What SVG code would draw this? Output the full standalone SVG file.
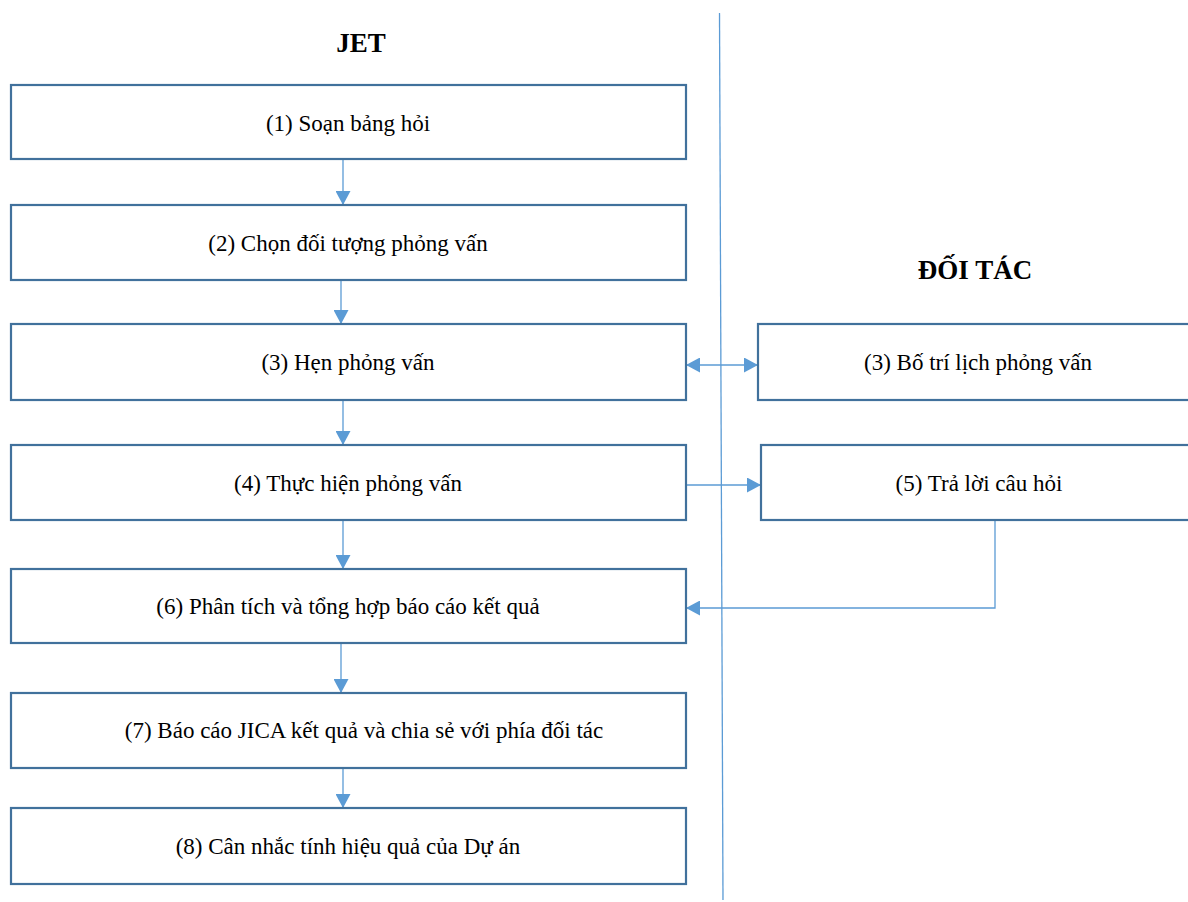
<svg xmlns="http://www.w3.org/2000/svg" width="1188" height="902" viewBox="0 0 1188 902">
  <style>
    .box { fill: #ffffff; stroke: #41719C; stroke-width: 2.2; }
    .lbl { font-family: "Liberation Serif", "Times New Roman", serif; font-size: 23px; fill: #000000; text-anchor: middle; }
    .head { font-family: "Liberation Serif", "Times New Roman", serif; font-size: 27px; font-weight: bold; fill: #000000; text-anchor: middle; }
    .conn { fill: none; stroke: #5B9BD5; stroke-width: 1.3; }
    .lane { stroke: #5B9BD5; stroke-width: 1.3; }
  </style>
  <defs>
    <marker id="arrow" viewBox="0 0 10 10" refX="10" refY="5" markerWidth="14" markerHeight="15" markerUnits="userSpaceOnUse" orient="auto-start-reverse" preserveAspectRatio="none">
      <path d="M0,0 L10,5 L0,10 Z" fill="#5B9BD5"/>
    </marker>
  </defs>

  <rect width="1188" height="902" fill="#ffffff"/>

  <!-- lane divider -->
  <line class="lane" x1="719.5" y1="13" x2="723" y2="900"/>

  <!-- lane headings -->
  <text class="head" x="361" y="52">JET</text>
  <text class="head" x="975" y="279">ĐỐI TÁC</text>

  <g id="connectors">
    <line class="conn" x1="343" y1="159" x2="343" y2="205" marker-end="url(#arrow)"/>
    <line class="conn" x1="341" y1="280" x2="341" y2="324" marker-end="url(#arrow)"/>
    <line class="conn" x1="343" y1="400" x2="343" y2="445" marker-end="url(#arrow)"/>
    <line class="conn" x1="343" y1="520" x2="343" y2="569" marker-end="url(#arrow)"/>
    <line class="conn" x1="341" y1="643" x2="341" y2="693" marker-end="url(#arrow)"/>
    <line class="conn" x1="343" y1="763" x2="343" y2="808" marker-end="url(#arrow)"/>
    <line class="conn" x1="686" y1="365" x2="758" y2="365" marker-start="url(#arrow)" marker-end="url(#arrow)"/>
    <line class="conn" x1="686" y1="485" x2="761" y2="485" marker-end="url(#arrow)"/>
    <polyline class="conn" points="995,520 995,608 686,608" marker-end="url(#arrow)"/>
  </g>

  <g id="n1"><rect class="box" x="11" y="85" width="675" height="74"/><text class="lbl" x="348" y="131">(1) Soạn bảng hỏi</text></g>
  <g id="n2"><rect class="box" x="11" y="205" width="675" height="75"/><text class="lbl" x="348" y="251">(2) Chọn đối tượng phỏng vấn</text></g>
  <g id="n3"><rect class="box" x="11" y="324" width="675" height="76"/><text class="lbl" x="348" y="370">(3) Hẹn phỏng vấn</text></g>
  <g id="n4"><rect class="box" x="11" y="445" width="675" height="75"/><text class="lbl" x="348" y="491">(4) Thực hiện phỏng vấn</text></g>
  <g id="n6"><rect class="box" x="11" y="569" width="675" height="74"/><text class="lbl" x="348" y="614">(6) Phân tích và tổng hợp báo cáo kết quả</text></g>
  <g id="n7"><rect class="box" x="11" y="693" width="675" height="75"/><text class="lbl" x="364" y="738">(7) Báo cáo JICA kết quả và chia sẻ với phía đối tác</text></g>
  <g id="n8"><rect class="box" x="11" y="808" width="675" height="76"/><text class="lbl" x="348" y="854">(8) Cân nhắc tính hiệu quả của Dự án</text></g>
  <g id="p3"><rect class="box" x="758" y="324" width="440" height="76"/><text class="lbl" x="978" y="370">(3) Bố trí lịch phỏng vấn</text></g>
  <g id="p5"><rect class="box" x="761" y="445" width="437" height="75"/><text class="lbl" x="979" y="491">(5) Trả lời câu hỏi</text></g>
</svg>
